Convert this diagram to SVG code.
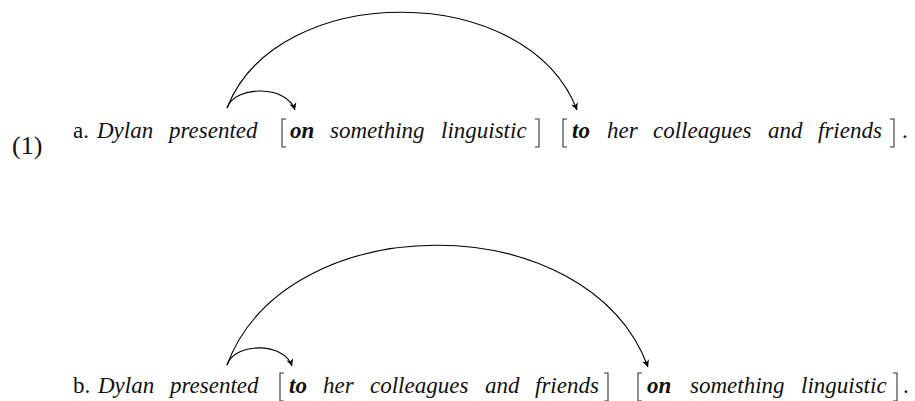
<svg xmlns="http://www.w3.org/2000/svg" width="915" height="401" viewBox="0 0 915 401">
<style>
text{font-family:"Liberation Serif","Times New Roman",serif;font-size:23px;fill:#111}
.it{font-style:italic}
.bi{font-style:italic;font-weight:bold}
.num{font-size:26px}
.br{fill:none;stroke:#333;stroke-width:1.1}
.arc{fill:none;stroke:#000;stroke-width:1.1}
</style>
<defs>
<marker id="ah" markerUnits="userSpaceOnUse" markerWidth="10" markerHeight="10" viewBox="-8 -5 9 10" refX="0" refY="0" orient="auto">
<path d="M0,0 L-7,-3.6 L-5,0 L-7,3.6 Z" fill="#000"/>
</marker>
</defs>
<g id="label-1"><text class="num" x="12" y="154">(1)</text></g>
<g id="sentence-a">
<text x="73" y="138">a.</text>
<text class="it" x="97" y="138">Dylan</text>
<text class="it" x="169" y="138">presented</text>
<path class="br" d="M286,119 H282 V147 H286"/>
<text class="bi" x="290" y="138">on</text>
<text class="it" x="330" y="138">something</text>
<text class="it" x="441" y="138">linguistic</text>
<path class="br" d="M535,119 H539 V147 H535"/>
<path class="br" d="M567,119 H563 V147 H567"/>
<text class="bi" x="572" y="138">to</text>
<text class="it" x="607" y="138">her</text>
<text class="it" x="653" y="138">colleagues</text>
<text class="it" x="768" y="138">and</text>
<text class="it" x="818" y="138">friends</text>
<path class="br" d="M890,119 H894 V147 H890"/>
<text x="902" y="138">.</text>
</g>
<g id="sentence-b">
<text x="73" y="393">b.</text>
<text class="it" x="98" y="393">Dylan</text>
<text class="it" x="170" y="393">presented</text>
<path class="br" d="M284,373 H280 V401 H284"/>
<text class="bi" x="289" y="393">to</text>
<text class="it" x="323" y="393">her</text>
<text class="it" x="370" y="393">colleagues</text>
<text class="it" x="485" y="393">and</text>
<text class="it" x="535" y="393">friends</text>
<path class="br" d="M604,373 H608 V401 H604"/>
<path class="br" d="M642,373 H638 V401 H642"/>
<text class="bi" x="647" y="393">on</text>
<text class="it" x="690" y="393">something</text>
<text class="it" x="801" y="393">linguistic</text>
<path class="br" d="M893,373 H897 V401 H893"/>
<text x="903" y="393">.</text>
</g>
<g id="connectors">
<path class="arc" d="M227,108 C277,-20 527,-20 577,110" marker-end="url(#ah)"/>
<path class="arc" d="M227,108 C235,85 287,85 295,110" marker-end="url(#ah)"/>
<path class="arc" d="M227,365 C287,205 588,205 648,367" marker-end="url(#ah)"/>
<path class="arc" d="M227,365 C235,342 284,342 292,366" marker-end="url(#ah)"/>
</g>
</svg>
